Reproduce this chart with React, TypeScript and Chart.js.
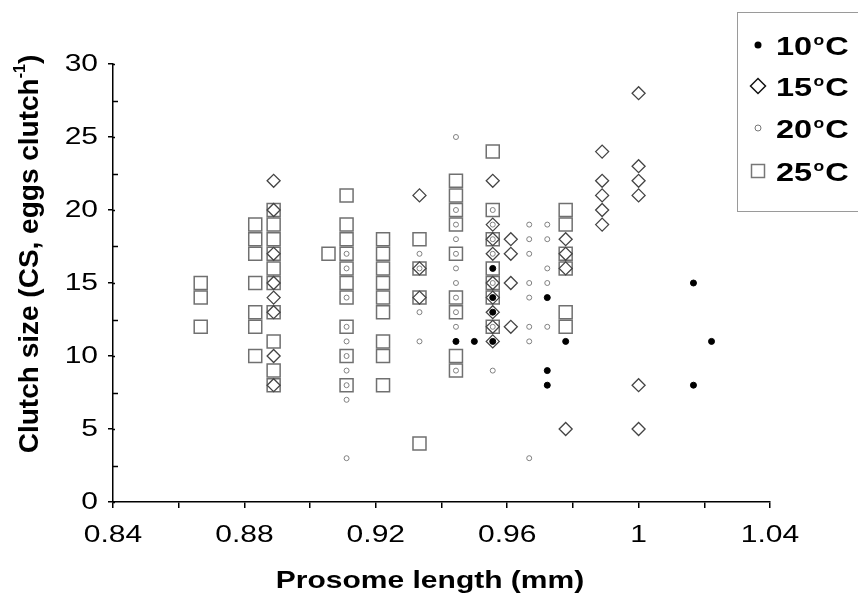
import React, { useEffect, useRef } from 'react';
import { Chart, registerables } from 'chart.js';

Chart.register(...registerables);

const FONT = '"Liberation Sans", Arial, Helvetica, sans-serif';
const TEXT_STRETCH = 1.25;

// Axis ticks
const X_TICKS = [0.84, 0.86, 0.88, 0.9, 0.92, 0.94, 0.96, 0.98, 1.0, 1.02, 1.04];
const X_LABELS = ['0.84', '', '0.88', '', '0.92', '', '0.96', '', '1', '', '1.04'];
const Y_TICKS = [0, 2.5, 5, 7.5, 10, 12.5, 15, 17.5, 20, 22.5, 25, 27.5, 30];
const Y_LABELS = ['0', '', '5', '', '10', '', '15', '', '20', '', '25', '', '30'];

const X_TITLE = 'Prosome length (mm)';
const Y_TITLE_MAIN = 'Clutch size (CS, eggs clutch';
const Y_TITLE_SUP = '-1';
const Y_TITLE_END = ')';

// 10 °C (filled dots)
const T10_LEN = [0.9444, 0.95, 0.9556, 0.9556, 0.9556, 0.9556, 0.9722, 0.9722, 0.9722, 0.9778, 1.0167, 1.0167, 1.0222];
const T10_CS = [11, 11, 16, 14, 13, 11, 14, 9, 8, 11, 15, 8, 11];

// 15 °C (diamonds)
const T15_LEN = [
  0.8889, 0.8889, 0.8889, 0.8889, 0.8889, 0.8889, 0.8889, 0.8889,
  0.9333, 0.9333, 0.9333,
  0.9556, 0.9556, 0.9556, 0.9556, 0.9556, 0.9556, 0.9556, 0.9556, 0.9556,
  0.9611, 0.9611, 0.9611, 0.9611,
  0.9778, 0.9778, 0.9778, 0.9778,
  0.9889, 0.9889, 0.9889, 0.9889, 0.9889,
  1.0, 1.0, 1.0, 1.0, 1.0, 1.0,
];
const T15_CS = [
  22, 20, 17, 15, 14, 13, 10, 8,
  21, 16, 14,
  22, 19, 18, 17, 15, 14, 13, 12, 11,
  18, 17, 15, 12,
  18, 17, 16, 5,
  24, 22, 21, 20, 19,
  28, 23, 22, 21, 8, 5,
];

// 20 °C (small open circles)
const T20_LEN = [
  0.9111, 0.9111, 0.9111, 0.9111, 0.9111, 0.9111, 0.9111, 0.9111, 0.9111, 0.9111,
  0.9333, 0.9333, 0.9333, 0.9333,
  0.9444, 0.9444, 0.9444, 0.9444, 0.9444, 0.9444, 0.9444, 0.9444, 0.9444, 0.9444, 0.9444,
  0.9556, 0.9556, 0.9556, 0.9556, 0.9556, 0.9556, 0.9556,
  0.9667, 0.9667, 0.9667, 0.9667, 0.9667, 0.9667, 0.9667, 0.9667,
  0.9722, 0.9722, 0.9722, 0.9722, 0.9722,
];
const T20_CS = [
  17, 16, 14, 12, 11, 10, 9, 8, 7, 3,
  17, 16, 13, 11,
  25, 20, 19, 18, 17, 16, 15, 14, 13, 12, 9,
  20, 19, 18, 17, 15, 12, 9,
  19, 18, 17, 15, 14, 12, 11, 3,
  19, 18, 16, 15, 12,
];

// 25 °C (squares)
const T25_LEN = [
  0.8667, 0.8667, 0.8667,
  0.8833, 0.8833, 0.8833, 0.8833, 0.8833, 0.8833, 0.8833,
  0.8889, 0.8889, 0.8889, 0.8889, 0.8889, 0.8889, 0.8889, 0.8889, 0.8889, 0.8889,
  0.9056,
  0.9111, 0.9111, 0.9111, 0.9111, 0.9111, 0.9111, 0.9111, 0.9111, 0.9111, 0.9111,
  0.9222, 0.9222, 0.9222, 0.9222, 0.9222, 0.9222, 0.9222, 0.9222, 0.9222,
  0.9333, 0.9333, 0.9333, 0.9333,
  0.9444, 0.9444, 0.9444, 0.9444, 0.9444, 0.9444, 0.9444, 0.9444, 0.9444,
  0.9556, 0.9556, 0.9556, 0.9556, 0.9556, 0.9556, 0.9556,
  0.9778, 0.9778, 0.9778, 0.9778, 0.9778, 0.9778,
];
const T25_CS = [
  15, 14, 12,
  19, 18, 17, 15, 13, 12, 10,
  20, 19, 18, 17, 16, 15, 13, 11, 9, 8,
  17,
  21, 19, 18, 17, 16, 15, 14, 12, 10, 8,
  18, 17, 16, 15, 14, 13, 11, 10, 8,
  18, 16, 14, 4,
  22, 21, 20, 19, 17, 14, 13, 10, 9,
  24, 20, 18, 16, 15, 14, 12,
  20, 19, 17, 16, 13, 12,
];

const LEGEND_LABELS = ['10', '15', '20', '25'];

const toPoints = (xs: number[], ys: number[]) => xs.map((x, i) => ({ x, y: ys[i] }));

// Widen axis texts horizontally (the reference figure's lettering is stretched)
const stretchText = {
  id: 'stretchText',
  beforeDraw(chart: any) {
    const ctx = chart.ctx;
    const orig = CanvasRenderingContext2D.prototype.fillText;
    ctx.fillText = function (text: string, x: number, y: number) {
      ctx.save();
      ctx.translate(x, y);
      ctx.scale(TEXT_STRETCH, 1);
      orig.call(ctx, text, 0, 0);
      ctx.restore();
    };
  },
  beforeDatasetsDraw(chart: any) {
    delete chart.ctx.fillText;
  },
};

const customDraw = {
  id: 'customDraw',
  afterDraw(chart: any) {
    const { ctx } = chart;
    delete ctx.fillText;
    const yScale = chart.scales.y;
    const axisX = chart.chartArea.left;
    ctx.save();
    // inner tick parts of y axis
    ctx.strokeStyle = '#000';
    ctx.lineWidth = 1.5;
    Y_TICKS.forEach((v, i) => {
      const py = Math.round(yScale.getPixelForValue(v)) + 0.5;
      const len = Y_LABELS[i] === '' ? 5 : 2;
      ctx.beginPath();
      ctx.moveTo(axisX, py);
      ctx.lineTo(axisX + len, py);
      ctx.stroke();
    });

    // x axis title
    ctx.save();
    ctx.translate(430, 581);
    ctx.scale(TEXT_STRETCH, 1);
    ctx.fillStyle = '#000';
    ctx.textAlign = 'center';
    ctx.textBaseline = 'middle';
    ctx.font = `bold 24px ${FONT}`;
    ctx.fillText(X_TITLE, 0, 0);
    ctx.restore();

    // y axis title with superscript
    ctx.save();
    ctx.translate(30, 254);
    ctx.rotate(-Math.PI / 2);
    ctx.fillStyle = '#000';
    ctx.textBaseline = 'middle';
    const mainFont = `bold 28px ${FONT}`;
    const supFont = `bold 16px ${FONT}`;
    ctx.font = mainFont;
    const w1 = ctx.measureText(Y_TITLE_MAIN).width;
    const w3 = ctx.measureText(Y_TITLE_END).width;
    ctx.font = supFont;
    const w2 = ctx.measureText(Y_TITLE_SUP).width;
    let sx = -(w1 + w2 + w3) / 2;
    ctx.textAlign = 'left';
    ctx.font = mainFont;
    ctx.fillText(Y_TITLE_MAIN, sx, 0);
    sx += w1;
    ctx.font = supFont;
    ctx.fillText(Y_TITLE_SUP, sx, -9);
    sx += w2;
    ctx.font = mainFont;
    ctx.fillText(Y_TITLE_END, sx, 0);
    ctx.restore();

    // legend
    ctx.strokeStyle = '#9a9a9a';
    ctx.lineWidth = 1;
    ctx.strokeRect(737.5, 12.5, 140, 199);
    const rows = [45, 86, 128, 171];
    const mx = 758;
    rows.forEach((ry, i) => {
      ctx.save();
      ctx.beginPath();
      if (i === 0) {
        ctx.fillStyle = '#000';
        ctx.arc(mx, ry, 3.5, 0, Math.PI * 2);
        ctx.fill();
      } else if (i === 1) {
        ctx.strokeStyle = '#111';
        ctx.lineWidth = 1.5;
        ctx.moveTo(mx - 7.5, ry);
        ctx.lineTo(mx, ry - 7.5);
        ctx.lineTo(mx + 7.5, ry);
        ctx.lineTo(mx, ry + 7.5);
        ctx.closePath();
        ctx.stroke();
      } else if (i === 2) {
        ctx.strokeStyle = '#777';
        ctx.lineWidth = 1;
        ctx.arc(mx, ry, 3, 0, Math.PI * 2);
        ctx.stroke();
      } else {
        ctx.strokeStyle = '#777';
        ctx.lineWidth = 1.5;
        ctx.strokeRect(mx - 6.5, ry - 6.5, 13, 13);
      }
      ctx.restore();
      // text
      ctx.save();
      ctx.translate(776, ry + 9.5);
      ctx.scale(TEXT_STRETCH, 1);
      ctx.fillStyle = '#000';
      ctx.textAlign = 'left';
      ctx.textBaseline = 'alphabetic';
      let tx = 0;
      ctx.font = `bold 26px ${FONT}`;
      ctx.fillText(LEGEND_LABELS[i], tx, 0);
      tx += ctx.measureText(LEGEND_LABELS[i]).width + 1;
      ctx.font = `bold 14px ${FONT}`;
      ctx.fillText('o', tx, -10);
      tx += ctx.measureText('o').width + 1;
      ctx.font = `bold 26px ${FONT}`;
      ctx.fillText('C', tx, 0);
      ctx.restore();
    });
    ctx.restore();
  },
};

export default function App() {
  const ref = useRef<HTMLCanvasElement | null>(null);
  useEffect(() => {
    if (!ref.current) return;
    const chart = new Chart(ref.current, {
      type: 'scatter',
      data: {
        datasets: [
          {
            label: '10°C',
            data: toPoints(T10_LEN, T10_CS),
            pointStyle: 'circle',
            pointRadius: 3,
            backgroundColor: '#000',
            borderColor: '#000',
            borderWidth: 1,
          },
          {
            label: '15°C',
            data: toPoints(T15_LEN, T15_CS),
            pointStyle: 'rectRot',
            pointRadius: 6.5,
            backgroundColor: 'rgba(0,0,0,0)',
            borderColor: '#444',
            borderWidth: 1.3,
          },
          {
            label: '20°C',
            data: toPoints(T20_LEN, T20_CS),
            pointStyle: 'circle',
            pointRadius: 2.5,
            backgroundColor: 'rgba(0,0,0,0)',
            borderColor: '#808080',
            borderWidth: 1,
          },
          {
            label: '25°C',
            data: toPoints(T25_LEN, T25_CS),
            pointStyle: 'rect',
            pointRadius: 9.2,
            backgroundColor: 'rgba(0,0,0,0)',
            borderColor: '#707070',
            borderWidth: 1.5,
          },
        ],
      },
      options: {
        animation: false,
        responsive: false,
        events: [],
        layout: { padding: { top: 64, right: 88, left: 0, bottom: 0 } },
        plugins: { legend: { display: false }, tooltip: { enabled: false } },
        scales: {
          x: {
            type: 'linear',
            min: 0.84,
            max: 1.04,
            afterBuildTicks: (s: any) => {
              s.ticks = X_TICKS.map((v) => ({ value: v }));
            },
            afterFit: (s: any) => {
              s.height = 94;
            },
            ticks: {
              autoSkip: false,
              maxRotation: 0,
              padding: 13,
              color: '#000',
              font: { family: FONT, size: 24 },
              callback: (_v: any, i: number) => X_LABELS[i],
            },
            grid: {
              drawOnChartArea: false,
              drawTicks: true,
              tickLength: 6,
              color: '#000',
              lineWidth: 1.5,
            },
            border: { display: true, color: '#000', width: 1.5 },
            title: { display: false },
          },
          y: {
            type: 'linear',
            min: 0,
            max: 30,
            afterBuildTicks: (s: any) => {
              s.ticks = Y_TICKS.map((v) => ({ value: v }));
            },
            afterFit: (s: any) => {
              s.width = 113;
            },
            ticks: {
              autoSkip: false,
              padding: 10,
              color: '#000',
              font: { family: FONT, size: 24 },
              callback: (_v: any, i: number) => Y_LABELS[i],
            },
            grid: {
              drawOnChartArea: false,
              drawTicks: true,
              tickLength: 5,
              color: (c: any) => (Y_LABELS[c.index] === '' ? 'rgba(0,0,0,0)' : '#000'),
              lineWidth: 1.5,
            },
            border: { display: true, color: '#000', width: 1.5 },
            title: { display: false },
          },
        },
      },
      plugins: [stretchText, customDraw],
    });
    return () => chart.destroy();
  }, []);
  return (
    <div style={{ position: 'fixed', left: 0, top: 0, width: 858, height: 596, background: '#fff' }}>
      <canvas ref={ref} width={858} height={596} style={{ width: 858, height: 596, display: 'block' }} />
    </div>
  );
}
